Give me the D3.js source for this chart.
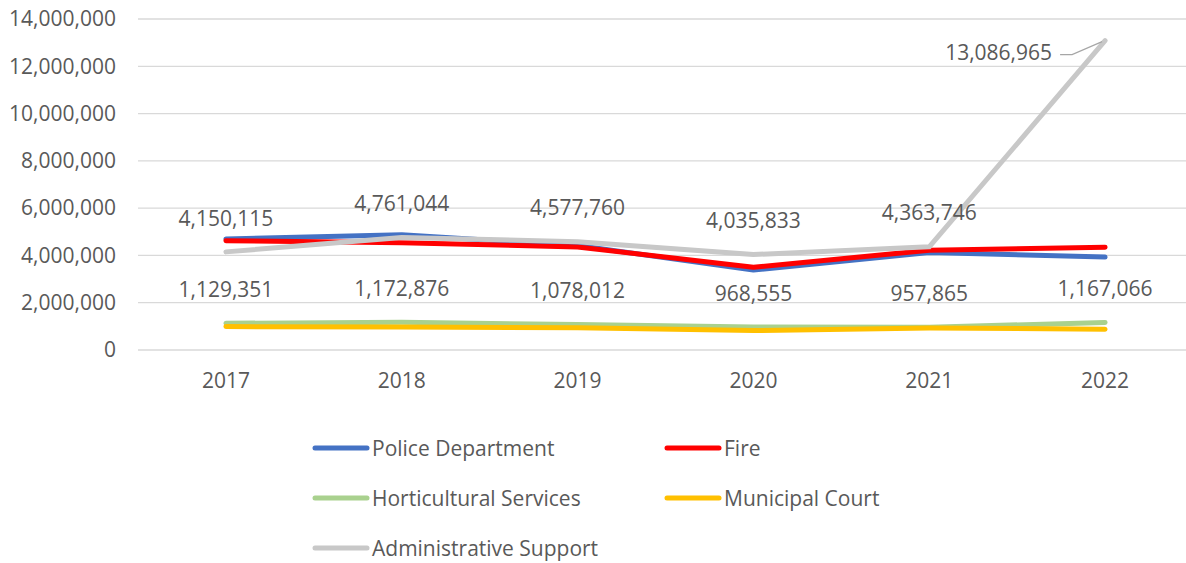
<!DOCTYPE html>
<html>
<head>
<meta charset="utf-8">
<script src="https://cdn.jsdelivr.net/npm/d3@7"></script>
<style>
  body { margin: 0; background: #fff; }
  svg text { font-family: "Open Sans", sans-serif; fill: #595959; }
</style>
</head>
<body>
<div id="chart"></div>
<script>
// Years on the x axis
const years = ['2017', '2018', '2019', '2020', '2021', '2022'];

// Series values
const police = [4700000, 4870000, 4420000, 3380000, 4120000, 3930000];
const fire = [4620000, 4540000, 4360000, 3500000, 4220000, 4350000];
const horticultural = [1129351, 1172876, 1078012, 968555, 957865, 1167066];
const municipal = [990000, 970000, 940000, 820000, 930000, 880000];
const adminSupport = [4150115, 4761044, 4577760, 4035833, 4363746, 13086965];

const yTicks = [0, 2000000, 4000000, 6000000, 8000000, 10000000, 12000000, 14000000];

const series = [
  { name: 'Police Department', values: police, color: '#4472C4', labels: false },
  { name: 'Fire', values: fire, color: '#FF0000', labels: false },
  { name: 'Horticultural Services', values: horticultural, color: '#A9D18E', labels: true },
  { name: 'Municipal Court', values: municipal, color: '#FFC000', labels: false },
  { name: 'Administrative Support', values: adminSupport, color: '#C8C8C8', labels: true }
];

const width = 1186;
const height = 563;
const plot = { left: 138, right: 1193, top: 19, bottom: 350 };
const fontSize = 21;

const svg = d3.select('#chart')
  .append('svg')
  .attr('width', width)
  .attr('height', height);

svg.append('rect').attr('width', width).attr('height', height).attr('fill', '#fff');

const x = d3.scaleBand().domain(years).range([plot.left, plot.right]).padding(0);
const cx = d => x(d) + x.bandwidth() / 2;
const y = d3.scaleLinear().domain([0, 14000000]).range([plot.bottom, plot.top]);

const fmt = d3.format(',');

// gridlines + y labels
const yAxis = d3.axisLeft(y).tickValues(yTicks).tickFormat(fmt).tickSize(0).tickPadding(22);
const gy = svg.append('g')
  .attr('transform', 'translate(' + plot.left + ',0)')
  .call(yAxis);
gy.select('.domain').remove();
gy.selectAll('.tick text').attr('font-size', fontSize).attr('fill', '#595959')
  .style('font-family', '"Open Sans", sans-serif');

svg.append('g').selectAll('line')
  .data(yTicks)
  .enter().append('line')
  .attr('x1', plot.left)
  .attr('x2', plot.right)
  .attr('y1', d => y(d))
  .attr('y2', d => y(d))
  .attr('stroke', '#D9D9D9')
  .attr('stroke-width', 1.3);

// x labels
const xAxis = d3.axisBottom(x).tickSize(0).tickPadding(23);
const gx = svg.append('g')
  .attr('transform', 'translate(0,' + plot.bottom + ')')
  .call(xAxis);
gx.select('.domain').remove();
gx.selectAll('.tick text').attr('font-size', fontSize).attr('fill', '#595959')
  .style('font-family', '"Open Sans", sans-serif');

// lines
const line = d3.line()
  .x((d, i) => cx(years[i]))
  .y(d => y(d));

series.forEach(s => {
  svg.append('path')
    .datum(s.values)
    .attr('d', line)
    .attr('fill', 'none')
    .attr('stroke', s.color)
    .attr('stroke-width', 5)
    .attr('stroke-linejoin', 'round')
    .attr('stroke-linecap', 'round');
});

// data labels
series.filter(s => s.labels).forEach(s => {
  s.values.forEach((v, i) => {
    const big = v > 10000000;
    svg.append('text')
      .attr('x', big ? cx(years[i]) - 53 : cx(years[i]))
      .attr('y', big ? y(v) + 14 : y(v) - 32)
      .attr('text-anchor', big ? 'end' : 'middle')
      .attr('dominant-baseline', 'middle')
      .attr('font-size', fontSize)
      .text(fmt(v));
    if (big) {
      // leader line
      svg.append('polyline')
        .attr('points', [
          [cx(years[i]) - 45, y(v) + 14],
          [cx(years[i]) - 33, y(v) + 14],
          [cx(years[i]) - 3, y(v) + 1]
        ].map(p => p.join(',')).join(' '))
        .attr('fill', 'none')
        .attr('stroke', '#A6A6A6')
        .attr('stroke-width', 1.2);
    }
  });
});

// legend
const legendPos = [
  [313, 448], [665, 448],
  [313, 498], [665, 498],
  [313, 548]
];
series.forEach((s, i) => {
  const [lx, ly] = legendPos[i];
  const g = svg.append('g').attr('transform', 'translate(' + lx + ',' + ly + ')');
  g.append('line')
    .attr('x1', 2).attr('x2', 54)
    .attr('y1', 0).attr('y2', 0)
    .attr('stroke', s.color)
    .attr('stroke-width', 5)
    .attr('stroke-linecap', 'round');
  g.append('text')
    .attr('x', 59)
    .attr('y', 2)
    .attr('dominant-baseline', 'middle')
    .attr('font-size', fontSize)
    .text(s.name);
});
</script>
</body>
</html>
